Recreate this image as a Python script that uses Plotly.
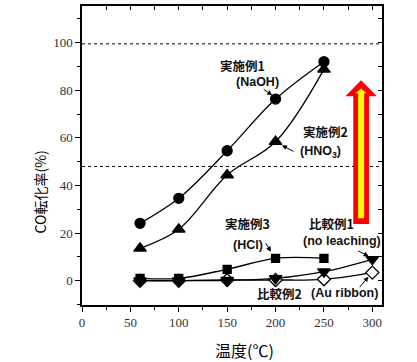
import plotly.graph_objects as go

temps = [60, 100, 150, 200, 250]
temps_c = [60, 100, 150, 200, 250, 300]
naoh = [24.1, 34.6, 54.6, 76.3, 92.0]
hno3 = [13.6, 21.6, 44.4, 58.4, 88.8]
hcl = [1.0, 1.0, 4.8, 9.4, 9.4]
no_leach = [0.0, 0.0, 0.2, 1.0, 3.8, 9.0]
au_ribbon = [0.0, 0.0, 0.3, 0.3, 0.6, 3.4]

ref_lines = [99.5, 48.0]

X_RANGE = [0, 310]
Y_RANGE = [-10.2, 115.4]

fig = go.Figure()

def add(x, y, symbol, size, fill="black"):
    fig.add_trace(go.Scatter(
        x=x, y=y, mode="lines+markers",
        line=dict(color="black", width=1.3, shape="spline", smoothing=1.0),
        marker=dict(symbol=symbol, size=size, color=fill,
                    line=dict(color="black", width=1.3)),
        showlegend=False, cliponaxis=False))

add(temps_c, au_ribbon, "diamond", 10, "white")
add(temps_c, no_leach, "triangle-down", 11)
add(temps, hcl, "square", 8)
add(temps, hno3, "triangle-up", 11)
add(temps, naoh, "circle", 10)

# invisible trace for mirrored axes
fig.add_trace(go.Scatter(x=[0], y=[0], xaxis="x2", yaxis="y2", mode="markers",
                         marker=dict(opacity=0), showlegend=False, hoverinfo="skip"))

shapes = []
for v in ref_lines:
    shapes.append(dict(type="line", xref="paper", yref="y", x0=0, x1=1, y0=v, y1=v,
                       line=dict(color="black", width=1, dash="dot")))

# big red/yellow arrow (data coordinates)
ax_c = 288.4
outer = dict(top=84.2, base=77.5, bottom=23.8, head_half=16.3, shaft_half=8.1)
inner = dict(top=80.7, base=78.7, bottom=26.2, head_half=5.7, shaft_half=3.1)

def arrow_path(p):
    c = ax_c
    return (f"M {c-p['shaft_half']},{p['bottom']} L {c-p['shaft_half']},{p['base']} "
            f"L {c-p['head_half']},{p['base']} L {c},{p['top']} "
            f"L {c+p['head_half']},{p['base']} L {c+p['shaft_half']},{p['base']} "
            f"L {c+p['shaft_half']},{p['bottom']} Z")

shapes.append(dict(type="path", xref="x", yref="y", path=arrow_path(outer),
                   fillcolor="#ff0000", line=dict(width=0)))
shapes.append(dict(type="path", xref="x", yref="y", path=arrow_path(inner),
                   fillcolor="#ffff00", line=dict(width=0)))

jp = "Noto Sans CJK JP"
latin = "Liberation Sans"
ann = []
def label(text, x, y, size=12.5, family=jp):
    ann.append(dict(text=f"<b>{text}</b>", x=x, y=y, xref="x", yref="y",
                    showarrow=False, font=dict(family=family, size=size, color="#111")))

def pointer(x, y, ax, ay):
    ann.append(dict(text="", x=x, y=y, xref="x", yref="y", ax=ax, ay=ay,
                    showarrow=True, arrowhead=2, arrowsize=1, arrowwidth=1,
                    arrowcolor="black", standoff=0))

label("実施例1", 165.9, 90.5)
label("(NaOH)", 181.5, 83.3, 12.5, latin)
pointer(196.5, 77.9, -10, -7)
label("実施例2", 251.4, 62.8)
label("(HNO<sub>3</sub>)", 246.2, 54.0, 12.5, latin)
pointer(206.6, 56.9, 13, 7)
label("実施例3", 170.7, 24.2)
label("(HCl)", 171.2, 15.0, 12.5, latin)
pointer(195.2, 12.2, -6, -10)
label("比較例1", 257.6, 24.2)
label("(no leaching)", 268.6, 16.7, 12.5, latin)
pointer(296.2, 10.3, -12, -6)
label("比較例2", 203.8, -5.2)
label("(Au ribbon)", 271.5, -5.2, 12.5, latin)
pointer(296.0, 1.7, -10, 12)

ann.append(dict(text="CO転化率(%)", xref="paper", yref="paper", x=-0.14, y=0.38,
                textangle=-90, showarrow=False, xanchor="center", yanchor="middle",
                font=dict(family=jp, size=14, color="black")))
ann.append(dict(text="温度(℃)", xref="paper", yref="paper", x=0.543, y=-0.15,
                showarrow=False, xanchor="center", yanchor="middle",
                font=dict(family=jp, size=16, color="black")))

tickfont = dict(family="Liberation Serif", size=13, color="#333")

fig.update_layout(
    width=417, height=362,
    margin=dict(l=82, r=35, t=6, b=57),
    plot_bgcolor="white", paper_bgcolor="white",
    shapes=shapes, annotations=ann,
    xaxis=dict(range=X_RANGE, tickvals=[0, 50, 100, 150, 200, 250, 300],
               ticks="outside", ticklen=5, tickwidth=1.2, tickcolor="black",
               minor=dict(tickvals=[25, 75, 125, 175, 225, 275], ticks="outside",
                          ticklen=3, tickcolor="black"),
               showline=True, linecolor="black", linewidth=1.5,
               showgrid=False, zeroline=False, tickfont=tickfont),
    yaxis=dict(range=Y_RANGE, tickvals=[0, 20, 40, 60, 80, 100],
               ticks="outside", ticklen=5, tickwidth=1.2, tickcolor="black",
               minor=dict(tickvals=[-10, 10, 30, 50, 70, 90, 110], ticks="outside",
                          ticklen=3, tickcolor="black"),
               showline=True, linecolor="black", linewidth=1.5,
               showgrid=False, zeroline=False, tickfont=tickfont),
    xaxis2=dict(range=X_RANGE, overlaying="x", side="top", anchor="y2",
                tickvals=[25, 50, 75, 100, 125, 150, 175, 200, 225, 250, 275, 300],
                ticks="inside", ticklen=4, tickcolor="black", showticklabels=False,
                showline=True, linecolor="black", linewidth=1.5, showgrid=False, zeroline=False),
    yaxis2=dict(range=Y_RANGE, overlaying="y", side="right", anchor="x2",
                tickvals=[0, 10, 20, 30, 40, 50, 60, 70, 80, 90, 100, 110],
                ticks="inside", ticklen=4, tickcolor="black", showticklabels=False,
                showline=True, linecolor="black", linewidth=1.5, showgrid=False, zeroline=False),
)

fig.write_html("out.html", config={"displayModeBar": False},
               post_script="document.body.style.margin='0';")
